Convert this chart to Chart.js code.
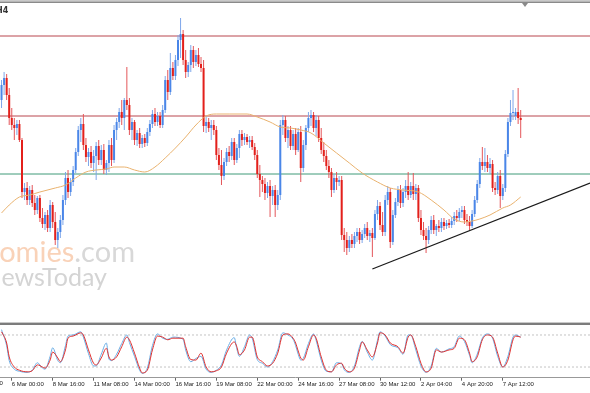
<!DOCTYPE html>
<html>
<head>
<meta charset="utf-8">
<script src="https://cdn.jsdelivr.net/npm/chart.js@4.4.0/dist/chart.umd.min.js"></script>
<style>
  html, body { margin: 0; padding: 0; background: #fff; }
  #wrap { position: relative; width: 590px; height: 393px; overflow: hidden; background: #fff; }
  #main { position: absolute; left: 0; top: 0; }
  #osc { position: absolute; left: 0; top: 322px; }
</style>
</head>
<body>
<div id="wrap">
  <canvas id="main" width="590" height="322"></canvas>
  <canvas id="osc" width="590" height="71"></canvas>
</div>
<script>
// H4 candles, bar index 0 = 6 Mar 00:00
const firstBar = -4;
const openP = [230,245,252,235,
  212,205,202,206,190,138,142,130,140,127,
  120,132,112,106,115,102,125,108,90,98,
  110,130,152,138,148,160,178,200,206,185,
  173,178,167,174,184,170,180,160,167,185,
  170,200,208,218,212,230,225,200,208,190,
  197,186,192,187,198,206,216,208,214,205,
  220,250,238,262,254,270,290,296,270,258,
  265,280,268,275,266,262,204,208,202,205,
  200,175,165,154,168,178,174,188,170,182,
  196,190,193,188,190,183,175,156,150,146,
  137,144,134,140,125,135,205,210,192,200,
  184,196,180,198,162,185,202,212,215,202,
  210,192,180,174,164,158,140,152,148,150,
  95,90,82,90,86,94,98,90,96,102,
  94,97,92,116,124,105,98,130,138,88,
  115,128,140,127,138,144,135,144,136,142,
  112,100,94,90,100,110,100,104,102,108,
  104,107,105,109,114,112,118,120,110,108,
  104,116,130,146,168,164,168,162,166,142,
  140,154,134,142,176,208,217,214,218,212];
const highP = [250,258,256,242,
  222,212,210,210,192,147,148,144,145,135,
  134,135,122,118,120,130,128,118,102,115,
  135,158,160,152,164,182,204,212,216,192,
  182,184,180,188,190,185,186,170,190,192,
  205,212,222,230,232,263,232,212,210,200,
  202,195,196,202,210,220,222,218,218,225,
  254,260,277,268,275,295,312,300,280,268,
  285,284,280,282,273,270,214,212,210,210,
  204,182,180,172,182,184,192,192,186,200,
  200,197,196,194,194,187,180,165,154,152,
  148,150,144,145,140,210,215,214,204,204,
  200,202,202,204,190,205,218,220,218,215,
  214,202,188,180,170,162,156,158,154,154,
  102,98,94,96,98,102,102,100,106,108,
  100,102,120,130,128,118,135,144,142,120,
  132,144,145,142,150,158,148,157,146,145,
  120,108,102,104,114,115,106,110,112,112,
  110,111,113,118,120,122,124,124,116,114,
  120,134,150,172,183,182,175,172,170,148,
  158,160,146,180,212,230,240,222,242,220];
const lowP = [222,235,230,205,
  200,190,195,188,132,130,125,125,123,115,
  116,108,102,100,98,98,102,85,82,92,
  105,125,132,134,144,157,174,188,180,168,
  164,162,158,150,165,165,156,155,158,164,
  167,190,202,205,200,220,195,190,185,184,
  182,182,183,184,194,202,204,204,202,202,
  217,230,235,250,250,264,272,265,252,253,
  258,262,264,263,258,198,197,198,190,195,
  170,160,145,150,164,168,170,165,167,172,
  184,185,185,182,180,170,152,133,138,130,
  132,113,125,113,120,130,195,188,182,180,
  180,175,178,148,158,180,198,204,198,194,
  188,176,168,160,152,133,137,140,144,90,
  78,75,78,82,82,88,86,87,92,90,
  88,73,90,110,100,94,94,125,82,85,
  112,124,122,123,132,130,132,130,130,108,
  95,90,77,86,96,96,94,98,98,100,
  101,102,102,105,108,109,112,106,104,100,
  102,113,127,142,160,158,158,156,138,135,
  136,122,130,138,173,204,210,210,206,192];
const closeP = [245,252,235,212,
  205,202,206,190,138,142,130,140,127,120,
  132,112,106,115,102,125,108,90,98,110,
  130,152,138,148,160,178,200,206,185,173,
  178,167,174,184,170,180,160,167,185,170,
  200,208,218,212,230,225,200,208,190,197,
  186,192,187,198,206,216,208,214,205,220,
  250,238,262,254,270,290,296,270,258,265,
  280,268,275,266,262,204,208,202,205,200,
  175,165,154,168,178,174,188,170,182,196,
  190,193,188,190,183,175,156,150,146,137,
  144,134,140,125,135,205,210,192,200,184,
  196,180,198,162,185,202,212,215,202,210,
  192,180,174,164,158,140,152,148,150,95,
  90,82,90,86,94,98,90,96,102,94,
  97,92,116,124,105,98,130,138,88,115,
  128,140,127,138,144,135,144,136,142,112,
  100,94,90,100,110,100,104,102,108,104,
  107,105,109,114,112,118,120,110,108,104,
  116,130,146,168,164,168,162,166,142,140,
  154,134,142,176,208,217,218,218,212,210];

// moving average (bar index, value)
const maBar = [-4,-1,3,7,11,17,21,25,29,33,37,40,44,48,52,56,60,64,68,72,76,80,85,92,96,101,105,109,113,117,122,127,132,137,143,148,153,159,164,169,173,177,180,183,187,192,195,199];
const maVal = [117,125,133,135,138,142,145,152,158,160,161,163,163,160,158,163,172,182,193,205,214,216,216,216,213,208,203,202,200,197,187,177,167,157,148,142,140,138,130,120,111,108,109,111,115,122,125,133];

// horizontal levels and trend line
const resistLevels = [294, 214];
const supportLevels = [156];
const trendBar = [141, 226.1];
const trendVal = [61, 147];

// stochastic
const stochBar = [-4,-2,-1,1,3,6,8,10,12,13,15,16,18,19,21,22,24,27,28,30,32,33,35,37,38,39,41,43,45,46,48,50,51,53,55,57,59,61,63,67,68,70,72,74,76,78,80,82,84,87,88,89,91,93,94,96,98,100,102,104,106,108,110,111,112,113,114,116,118,119,121,123,125,127,129,130,132,134,136,137,139,141,143,144,146,148,151,153,155,156,158,160,162,164,166,168,171,173,175,177,179,180,182,184,186,188,190,192,194,196,197,199];
const stochD = [86,65,39,20,14,11,13,24,20,18,33,48,37,30,52,74,78,84,80,52,27,24,37,55,39,33,39,58,76,71,46,18,9,14,52,78,76,71,74,74,58,34,33,46,20,11,13,20,46,67,58,43,52,76,76,39,30,22,27,46,80,82,74,65,50,37,33,58,80,74,39,14,11,24,27,18,11,18,52,67,52,39,65,84,80,65,58,46,76,80,58,27,11,18,52,48,52,55,74,71,46,30,39,71,80,76,46,20,33,71,78,76];
const stochK = [90,60,32,16,12,10,14,28,18,16,40,56,32,28,60,78,80,86,76,45,22,22,44,65,35,32,44,64,80,66,40,14,8,18,60,82,74,72,76,72,52,30,36,40,16,10,14,24,52,75,54,40,58,80,74,34,27,20,30,52,84,80,72,60,44,33,36,64,82,70,33,12,11,28,26,15,10,22,58,68,48,33,70,86,78,62,56,44,80,80,52,22,10,22,55,48,54,58,78,68,42,28,44,74,82,74,40,20,40,76,80,76];
const stochLevels = [80, 20];

const tickBars = [-16,0,16,32,48,64,80,96,112,128,144,160,176,192];
const tickLabels = ['3 Mar 08:00','6 Mar 00:00','8 Mar 16:00','11 Mar 08:00','14 Mar 00:00','16 Mar 16:00','19 Mar 08:00','22 Mar 00:00','24 Mar 16:00','27 Mar 08:00','30 Mar 12:00','2 Apr 04:00','4 Apr 20:00','7 Apr 12:00'];

const xMin = -4.6, xMax = 226.1;

const bars = openP.map((_, k) => firstBar + k);
const isUp = bars.map((_, k) => closeP[k] >= openP[k]);
const bodyColors = isUp.map(u => u ? '#4a86e8' : '#e3201b');
const wickColors = isUp.map(u => u ? '#7ea7ea' : '#e4565a');

function flatLine(v) {
    return [{x: xMin, y: v}, {x: xMax, y: v}];
}

const mainDecor = {
    id: 'mainDecor',
    beforeDatasetsDraw(chart) {
        const ctx = chart.ctx;
        ctx.save();
        ctx.textBaseline = 'alphabetic';
        ctx.textAlign = 'right';
        ctx.font = '29px Lato';
        ctx.fillStyle = '#d8d8d8';
        ctx.fillText('.com', 135, 262);
        const w = ctx.measureText('.com').width;
        ctx.fillStyle = '#f9d2b8';
        ctx.fillText('Economies', 135 - w, 262);
        ctx.font = '25px Lato';
        ctx.fillStyle = '#d4d4d4';
        ctx.fillText('NewsToday', 107, 286);
        ctx.restore();
    },
    afterDraw(chart) {
        const ctx = chart.ctx;
        ctx.save();
        ctx.fillStyle = '#c9c9c9';
        ctx.fillRect(0, 0, 590, 1.5);
        ctx.fillStyle = '#8a8a8a';
        ctx.fillRect(0, 1.5, 590, 1.5);
        // chart shift marker
        ctx.fillStyle = '#8a8a8a';
        ctx.beginPath();
        ctx.moveTo(522, 3); ctx.lineTo(528, 3); ctx.lineTo(525, 7); ctx.closePath();
        ctx.fill();
        ctx.fillStyle = '#333';
        ctx.font = 'bold 8px "DejaVu Sans"';
        ctx.textAlign = 'left';
        ctx.fillText('H4', -4, 13);
        ctx.restore();
    }
};

new Chart(document.getElementById('main'), {
    type: 'bar',
    data: {
        datasets: [
            {
                type: 'line', data: trendBar.map((b, k) => ({x: b, y: trendVal[k]})),
                borderColor: '#1a1a1a', borderWidth: 1.2, pointRadius: 0, order: 1
            },
            {
                type: 'line', data: maBar.map((b, k) => ({x: b, y: maVal[k]})),
                borderColor: '#e9b26e', borderWidth: 1, pointRadius: 0,
                cubicInterpolationMode: 'monotone', order: 2
            },
            {
                data: bars.map((b, k) => ({x: b, y: [openP[k], closeP[k]]})),
                backgroundColor: bodyColors, barThickness: 2, grouped: false,
                inflateAmount: 0, minBarLength: 1, order: 3
            },
            {
                data: bars.map((b, k) => ({x: b, y: [lowP[k], highP[k]]})),
                backgroundColor: wickColors, barThickness: 1, grouped: false,
                inflateAmount: 0, order: 4
            },
            ...resistLevels.map(v => ({
                type: 'line', data: flatLine(v), borderColor: '#b9474f',
                borderWidth: 1, pointRadius: 0, order: 5
            })),
            ...supportLevels.map(v => ({
                type: 'line', data: flatLine(v), borderColor: '#3f9a78',
                borderWidth: 1, pointRadius: 0, order: 5
            }))
        ]
    },
    options: {
        responsive: false,
        animation: false,
        devicePixelRatio: 1,
        layout: { padding: 0, autoPadding: false },
        plugins: { legend: { display: false }, tooltip: { enabled: false } },
        scales: {
            x: { type: 'linear', min: xMin, max: xMax, offset: false, display: false },
            y: { min: 8, max: 330, display: false }
        }
    },
    plugins: [mainDecor]
});

const oscDecor = {
    id: 'oscDecor',
    afterDraw(chart) {
        const ctx = chart.ctx;
        const xs = chart.scales.x;
        ctx.save();
        ctx.fillStyle = '#c9c9c9';
        ctx.fillRect(0, 0, 590, 1);
        ctx.fillStyle = '#7c7c7c';
        ctx.fillRect(0, 1, 590, 2);
        // labels whose tick lies left of the visible range
        ctx.font = '6px "Liberation Sans"';
        ctx.fillStyle = '#222';
        ctx.textAlign = 'left';
        ctx.textBaseline = 'top';
        tickBars.forEach((b, k) => {
            if (b < xMin) ctx.fillText(tickLabels[k], xs.getPixelForValue(b), xs.top + 3);
        });
        ctx.restore();
    }
};

new Chart(document.getElementById('osc'), {
    type: 'line',
    data: {
        datasets: [
            {
                data: stochBar.map((b, k) => ({x: b, y: stochD[k]})),
                borderColor: '#e0302e', borderWidth: 1, pointRadius: 0,
                cubicInterpolationMode: 'monotone', order: 1
            },
            {
                data: stochBar.map((b, k) => ({x: b, y: stochK[k]})),
                borderColor: '#6aaee6', borderWidth: 1, pointRadius: 0,
                cubicInterpolationMode: 'monotone', order: 2
            },
            ...stochLevels.map(v => ({
                data: flatLine(v), borderColor: '#c4c4c4', borderWidth: 1,
                borderDash: [2, 2], pointRadius: 0, order: 3
            }))
        ]
    },
    options: {
        responsive: false,
        animation: false,
        devicePixelRatio: 1,
        layout: { padding: { top: 2.3, left: 0, right: 0, bottom: 0 }, autoPadding: false },
        plugins: { legend: { display: false }, tooltip: { enabled: false } },
        scales: {
            x: {
                type: 'linear', min: xMin, max: xMax, offset: false, position: 'bottom',
                afterBuildTicks: s => { s.ticks = tickBars.filter(b => b >= xMin).map(b => ({value: b})); },
                afterFit: s => { s.height = 15.3; },
                ticks: {
                    autoSkip: false, maxRotation: 0, minRotation: 0, align: 'start', padding: 0,
                    color: '#222', font: { family: 'Liberation Sans', size: 6 },
                    callback: v => tickLabels[tickBars.indexOf(v)]
                },
                grid: { drawOnChartArea: false, drawTicks: true, tickLength: 3, color: '#666' },
                border: { display: true, color: '#999', width: 1 }
            },
            y: { min: 0, max: 100, display: false }
        }
    },
    plugins: [oscDecor]
});
</script>
</body>
</html>
